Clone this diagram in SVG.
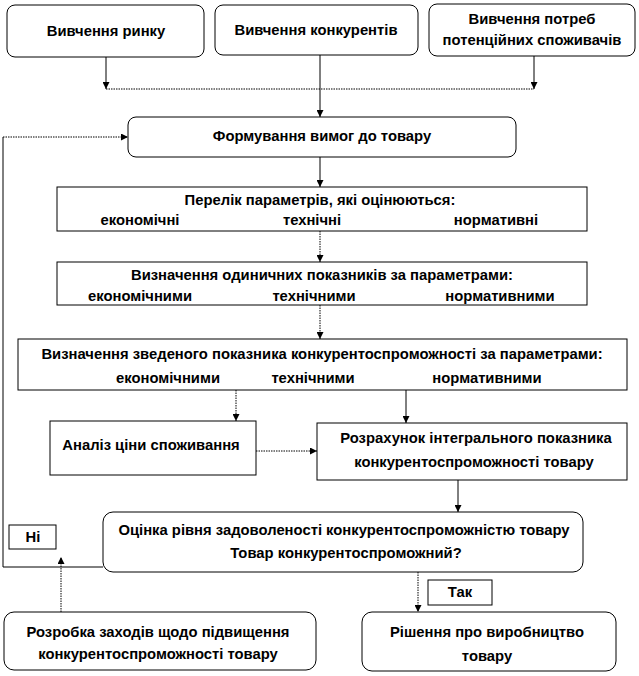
<svg xmlns="http://www.w3.org/2000/svg" width="639" height="676" viewBox="0 0 639 676">
<defs>
<style>
.b{fill:#fff;stroke:#000;stroke-width:1}
.t{font-family:"Liberation Sans",Arial,sans-serif;font-weight:bold;font-size:14.8px;fill:#000;text-anchor:middle}
.c{fill:none;stroke:#000;stroke-width:1}
.d{fill:none;stroke:#000;stroke-width:1;stroke-dasharray:1.5 1}
</style>
<marker id="a" viewBox="0 0 10 10" refX="10" refY="5" markerWidth="7" markerHeight="7" orient="auto" markerUnits="userSpaceOnUse">
<path d="M0,0L10,5L0,10z" fill="#000"/>
</marker>
</defs>
<rect width="639" height="676" fill="#fff"/>
<g id="connectors">
<path class="c" d="M106,57V89" marker-end="url(#a)"/>
<path class="d" d="M106,89H534"/>
<path class="c" d="M534,56V89" marker-end="url(#a)"/>
<path class="c" d="M320,55V117" marker-end="url(#a)"/>
<path class="c" d="M320,157V187" marker-end="url(#a)"/>
<path class="d" d="M320,231V262" marker-end="url(#a)"/>
<path class="d" d="M320,305V339" marker-end="url(#a)"/>
<path class="d" d="M236,390V421" marker-end="url(#a)"/>
<path class="c" d="M406,390V423" marker-end="url(#a)"/>
<path class="d" d="M256,451H317" marker-end="url(#a)"/>
<path class="c" d="M458,480V512" marker-end="url(#a)"/>
<path class="c" d="M103,567H3V137"/>
<path class="d" d="M3,137H128" marker-end="url(#a)"/>
<path class="d" d="M61,612V557" marker-end="url(#a)" stroke-dasharray="3 1 1 1"/>
<path class="d" d="M418,572V612" marker-end="url(#a)"/>
</g>
<g id="n1"><rect class="b" x="7" y="5" width="197" height="52" rx="8"/><text class="t" x="106" y="36">Вивчення ринку</text></g>
<g id="n2"><rect class="b" x="215" y="5" width="203" height="50" rx="8"/><text class="t" x="316" y="35">Вивчення конкурентів</text></g>
<g id="n3"><rect class="b" x="429" y="4" width="206" height="52" rx="8"/><text class="t" x="532" y="24">Вивчення потреб</text><text class="t" x="532" y="45">потенційних  споживачів</text></g>
<g id="n4"><rect class="b" x="128" y="117" width="388" height="40" rx="8"/><text class="t" x="322" y="141">Формування  вимог до товару</text></g>
<g id="n5"><rect class="b" x="57" y="187" width="530" height="44"/><text class="t" x="320" y="205">Перелік параметрів, які оцінюються:</text><text class="t" x="140" y="225">економічні</text><text class="t" x="312" y="225">технічні</text><text class="t" x="496" y="225">нормативні</text></g>
<g id="n6"><rect class="b" x="57" y="262" width="530" height="43"/><text class="t" x="322" y="280">Визначення  одиничних  показників за параметрами:</text><text class="t" x="140" y="301">економічними</text><text class="t" x="314" y="301">технічними</text><text class="t" x="500" y="301">нормативними</text></g>
<g id="n7"><rect class="b" x="18" y="339" width="609" height="51"/><text class="t" x="322" y="359">Визначення  зведеного показника  конкурентоспроможності  за параметрами:</text><text class="t" x="168" y="383">економічними</text><text class="t" x="313" y="383">технічними</text><text class="t" x="487" y="383">нормативними</text></g>
<g id="n8"><rect class="b" x="50" y="421" width="206" height="54"/><text class="t" x="151" y="450">Аналіз ціни споживання</text></g>
<g id="n9"><rect class="b" x="317" y="423" width="310" height="57"/><text class="t" x="476" y="443">Розрахунок інтегрального  показника</text><text class="t" x="474" y="467">конкурентоспроможності  товару</text></g>
<g id="n10"><rect class="b" x="103" y="512" width="480" height="60" rx="10"/><text class="t" x="344" y="535">Оцінка рівня задоволеності  конкурентоспроможністю  товару</text><text class="t" x="346" y="558">Товар конкурентоспроможний?</text></g>
<g id="n11"><rect class="b" x="9" y="525" width="47" height="24"/><text class="t" x="33" y="542">Ні</text></g>
<g id="n12"><rect class="b" x="428" y="580" width="64" height="25"/><text class="t" x="460" y="597">Так</text></g>
<g id="n13"><rect class="b" x="4" y="612" width="312" height="58" rx="10"/><text class="t" x="158" y="637">Розробка заходів щодо  підвищення</text><text class="t" x="158" y="659">конкурентоспроможності  товару</text></g>
<g id="n14"><rect class="b" x="362" y="612" width="254" height="59" rx="10"/><text class="t" x="487" y="637">Рішення про виробництво</text><text class="t" x="487" y="661">товару</text></g>
</svg>
